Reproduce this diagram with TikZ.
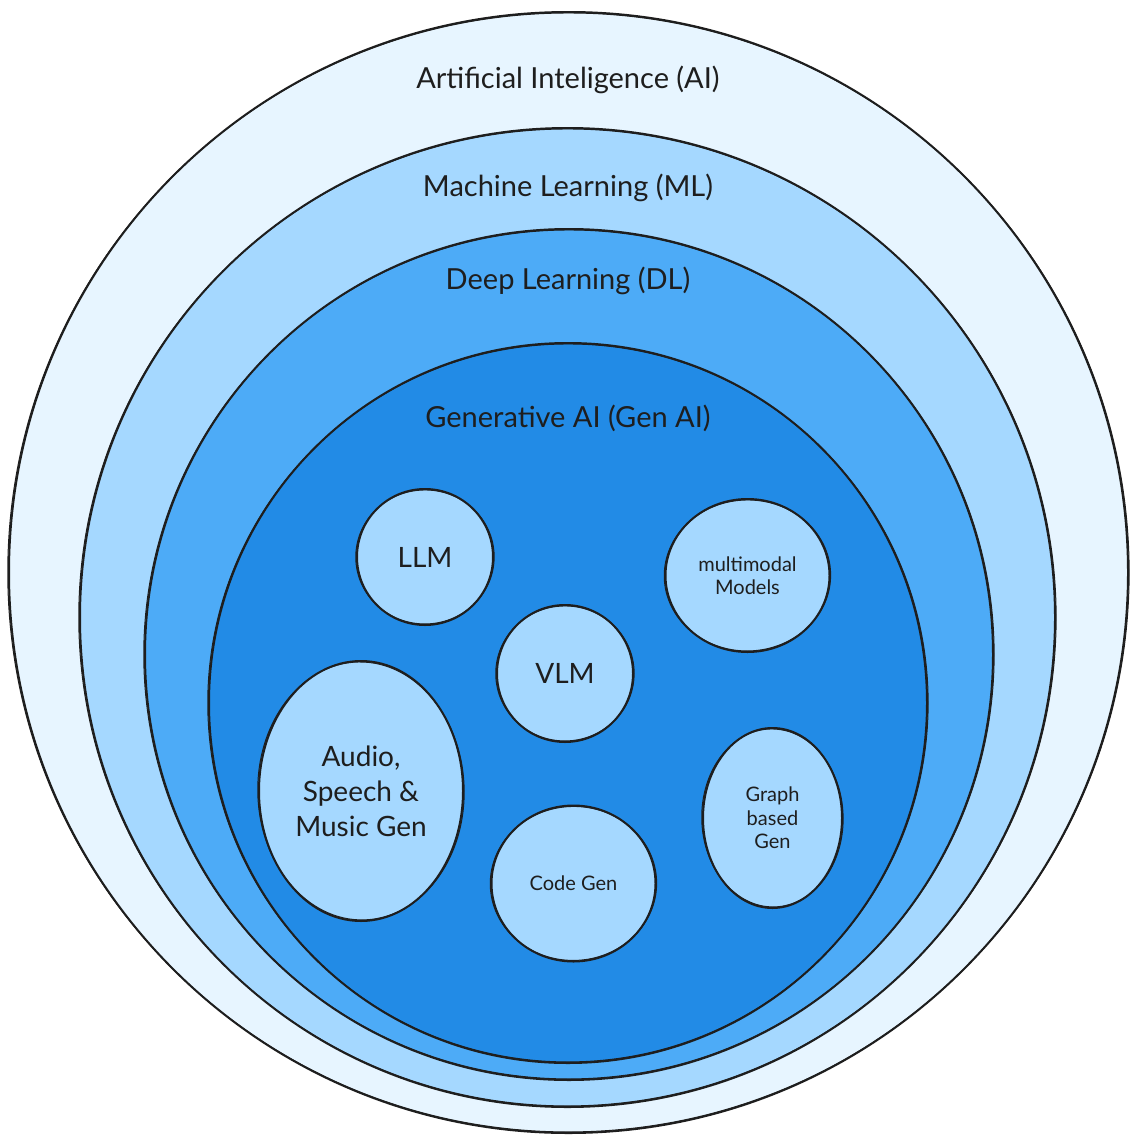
\documentclass[tikz,border=0pt]{standalone}
\usepackage{fontspec}
\setmainfont{Lato}
\usetikzlibrary{shapes.geometric}
\definecolor{ink}{HTML}{1E1E1E}
\definecolor{aiC}{HTML}{E7F5FF}
\definecolor{mlC}{HTML}{A5D8FF}
\definecolor{dlC}{HTML}{4DABF7}
\definecolor{genC}{HTML}{228BE6}
\newcommand\blob[8]{%
  \node[blobsty, #8, fill=#6, minimum width={(2*#4)*1pt}, minimum height={(2*#5)*1pt}] (#1) at (#2,#3) {#7};
  \draw[sktwo, rotate around={1.2:(#1.center)}] (#1.center) ellipse [x radius={(#4+1.2)*1pt}, y radius={(#5-1)*1pt}];
}
\tikzset{
  blobsty/.style={ellipse, draw=ink, line width=2pt, inner sep=0pt, text=ink, align=center},
  sktwo/.style={draw=ink, line width=1pt},
  biglabel/.style={text=ink, font=\fontsize{29}{34}\selectfont, inner sep=0pt},
  midfont/.style={font=\fontsize{28}{35}\selectfont},
  smallfont/.style={font=\fontsize{20}{23.5}\selectfont},
}
\begin{document}
\begin{tikzpicture}[x=1pt,y=-1pt]
\useasboundingbox (0,0) rectangle (1136,1143);
\blob{ai}{568.5}{572.5}{559.5}{560.5}{aiC}{}{}
\blob{ml}{567.5}{617.5}{487.5}{489.5}{mlC}{}{}
\blob{dl}{569}{654.5}{424}{425.5}{dlC}{}{}
\blob{gen}{568}{703}{359}{360}{genC}{}{}
\blob{llm}{425}{557}{68}{68}{mlC}{LLM}{midfont}
\blob{mm}{747.5}{575.5}{82}{76.5}{mlC}{multimodal\\ Models}{smallfont}
\blob{vlm}{565}{673.5}{68}{68.5}{mlC}{VLM}{midfont}
\blob{audio}{361}{791}{102}{130}{mlC}{Audio,\\ Speech \&\\ Music Gen}{midfont}
\blob{code}{573.5}{883.5}{82}{78}{mlC}{Code Gen}{smallfont}
\blob{graph}{772.5}{818}{69.5}{90}{mlC}{Graph\\ based\\ Gen}{smallfont}
\node[biglabel] (tai) at (568,80) {Artificial Inteligence (AI)};
\node[biglabel] (tml) at (568,188) {Machine Learning (ML)};
\node[biglabel] (tdl) at (568,281) {Deep Learning (DL)};
\node[biglabel] (tgen) at (568,418) {Generative AI (Gen AI)};
\end{tikzpicture}
\end{document}
